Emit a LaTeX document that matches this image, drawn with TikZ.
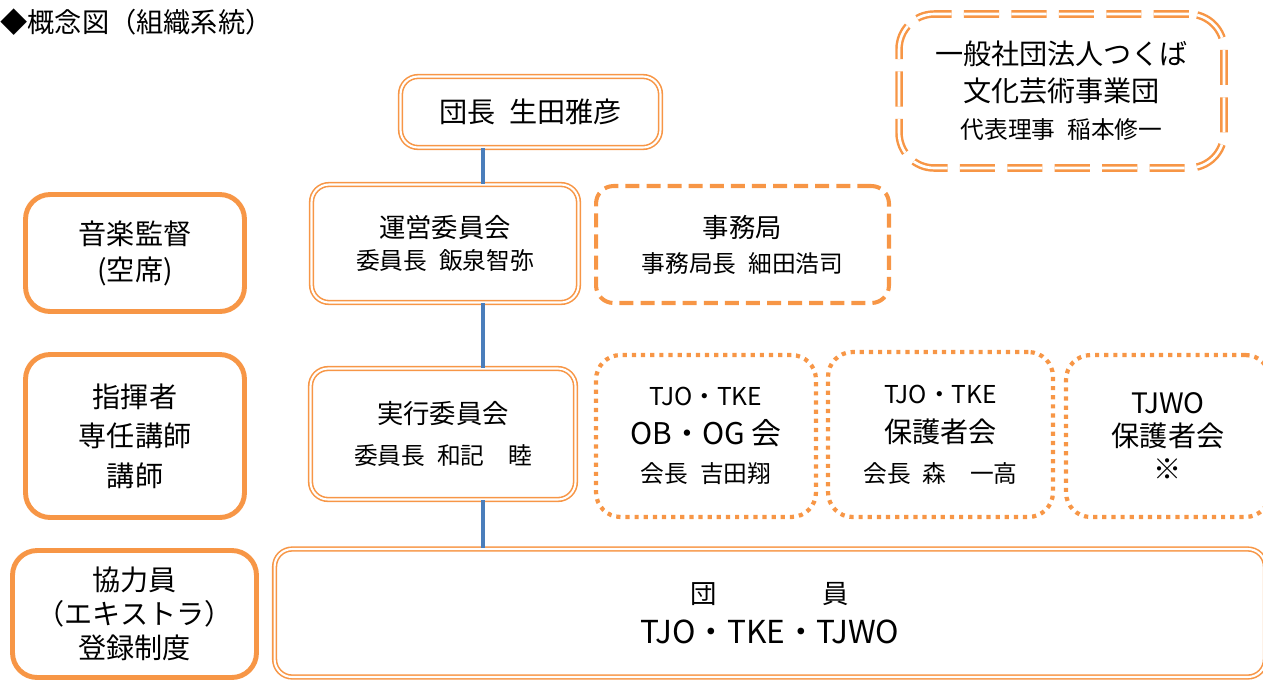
\documentclass[tikz,border=0pt]{standalone}
\usepackage{fontspec}
\setmainfont{Noto Sans CJK JP}
\definecolor{tjorange}{HTML}{F79646}
\definecolor{tjblue}{HTML}{4A7EBB}
\newcommand{\fs}[2]{\fontsize{#1pt}{#2pt}\selectfont}

\begin{document}
\begin{tikzpicture}[x=0.02cm, y=-0.02cm]
\tikzstyle{every node}=[align=center, inner sep=0pt, text=black]
\tikzstyle{solidbox}=[draw=tjorange, line width=2.8pt, rounded corners=14pt]
\tikzstyle{dblbox}=[draw=tjorange, double=white, line width=0.9pt, double distance=1.2pt, rounded corners=10pt]
\tikzstyle{dbldash}=[draw=tjorange, double=white, line width=1.4pt, double distance=1.5pt, dash pattern=on 20pt off 7pt, rounded corners=20pt]
\tikzstyle{dashbox}=[draw=tjorange, line width=2.3pt, dash pattern=on 8pt off 4pt, rounded corners=10pt]
\tikzstyle{dotbox}=[draw=tjorange, line width=2.4pt, dash pattern=on 2.4pt off 2.8pt, rounded corners=14pt]
\tikzstyle{link}=[draw=tjblue, line width=2.8pt]
\useasboundingbox (0,0) rectangle (1263,680);

\node(title)[anchor=west, font=\fs{15.5}{18}] at (0, 22) {◆概念図（組織系統）};

\node(dan)[dblbox, minimum width=5.2cm, minimum height=1.42cm, font=\fs{16}{20}]
  at (530.5, 112) {団長\enspace 生田雅彦};
\node(zai)[dbldash, minimum width=6.5cm, minimum height=3.08cm, font=\fs{16}{21}]
  at (1061.5, 91) {一般社団法人つくば\\文化芸術事業団\\{\fs{13.5}{21}代表理事\enspace 稲本修一}};

\node(kan)[solidbox, minimum width=4.38cm, minimum height=2.34cm, font=\fs{16}{20.5}]
  at (135, 253) {音楽監督\\(空席)};
\node(unei)[dblbox, minimum width=5.34cm, minimum height=2.36cm, font=\fs{15}{18.2}]
  at (445, 243.5) {運営委員会\\{\fs{13.5}{18.2}委員長\enspace 飯泉智弥}};
\node(jimu)[dashbox, minimum width=5.86cm, minimum height=2.34cm, font=\fs{15}{20}]
  at (742.5, 244.5) {事務局\\{\fs{13.5}{20}事務局長\enspace 細田浩司}};

\node(shiki)[solidbox, minimum width=4.38cm, minimum height=3.26cm, font=\fs{16}{22.5}]
  at (135, 436) {指揮者\\専任講師\\講師};
\node(jikko)[dblbox, minimum width=5.3cm, minimum height=2.62cm, font=\fs{15}{23}]
  at (443, 434) {実行委員会\\{\fs{13.5}{23}委員長\enspace 和記　睦}};
\node(obog)[dotbox, minimum width=4.4cm, minimum height=3.24cm, font=\fs{14}{22}]
  at (706, 436) {TJO・TKE\\{\fs{17}{22}OB・OG 会}\\{\fs{13.5}{22}会長\enspace 吉田翔}};
\node(hogo)[dotbox, minimum width=4.5cm, minimum height=3.3cm, font=\fs{16}{22.5}]
  at (940.5, 434.5) {{\fs{14}{22.5}TJO・TKE}\\保護者会\\{\fs{13.5}{22.5}会長\enspace 森　一高}};
\node(jwo)[dotbox, minimum width=4.08cm, minimum height=3.24cm, font=\fs{16}{18.5}]
  at (1168, 436) {TJWO\\保護者会\\※};

\node(kyo)[solidbox, minimum width=4.88cm, minimum height=2.54cm, font=\fs{16}{19.4}]
  at (134.5, 614) {協力員\\（エキストラ）\\登録制度};
\node(danin)[dblbox, minimum width=19.82cm, minimum height=2.56cm, font=\fs{18}{22.8}]
  at (770, 613) {{\fs{15}{22.8}団　　　　員}\\TJO・TKE・TJWO};

\coordinate(trunk) at (483, 0);
\draw[link] (dan.south -| trunk) -- (unei.north -| trunk);
\draw[link] (unei.south -| trunk) -- (jikko.north -| trunk);
\draw[link] (jikko.south -| trunk) -- (danin.north -| trunk);

\end{tikzpicture}
\end{document}
